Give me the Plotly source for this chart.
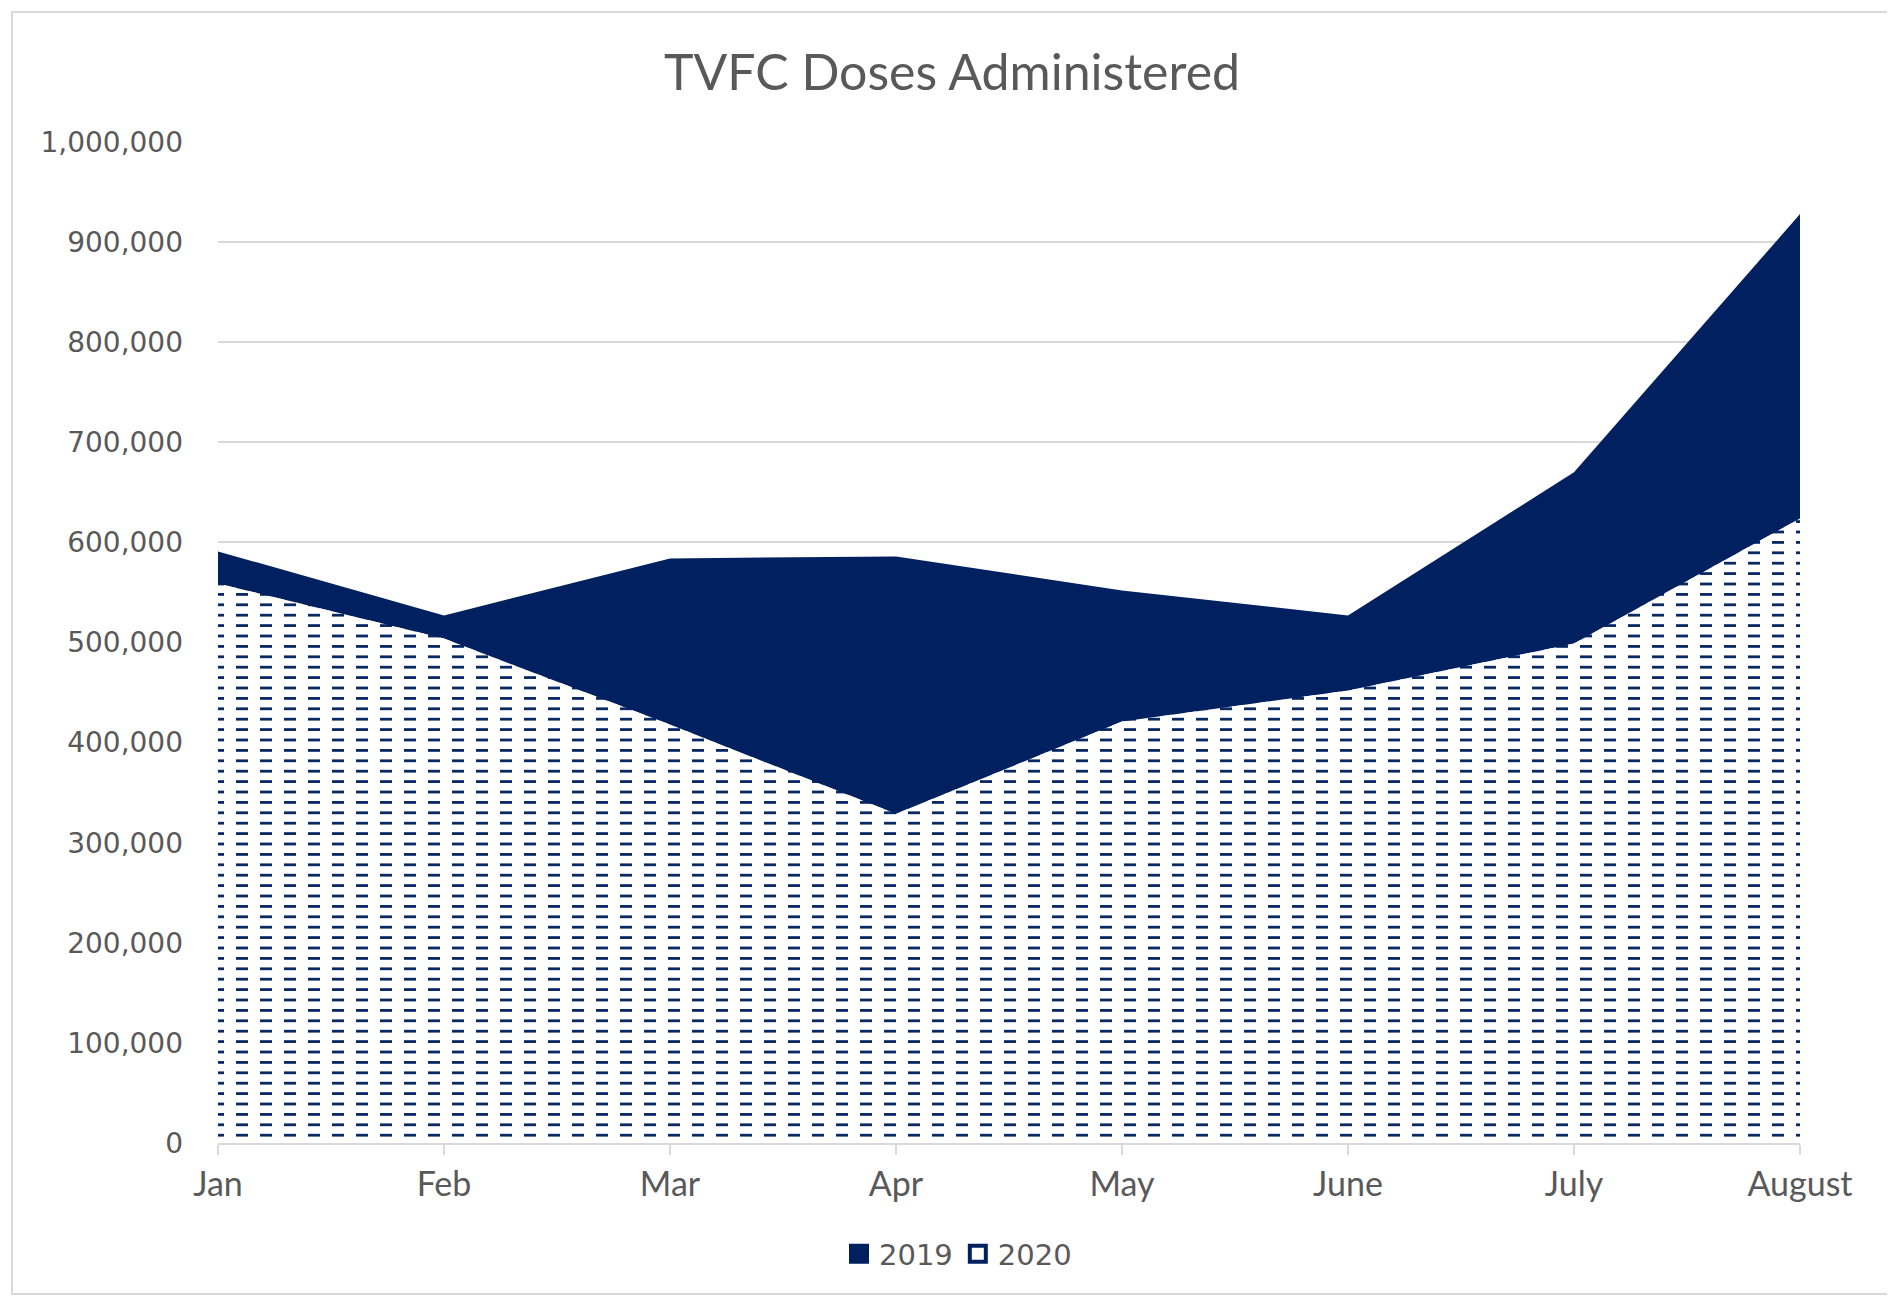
import plotly.graph_objects as go

months = ["Jan", "Feb", "Mar", "Apr", "May", "June", "July", "August"]
doses_2019 = [591000, 527000, 584000, 586000, 552000, 527000, 670000, 928000]
doses_2020 = [559000, 504000, 418000, 329000, 421000, 452000, 499000, 624000]
y_ticks = [0, 100000, 200000, 300000, 400000, 500000, 600000, 700000, 800000, 900000, 1000000]

NAVY = "#002060"
GRAY_TXT = "#595959"
GRID = "#d9d9d9"

# page has an 8px body margin; plot area wanted at page x 218-1800, y 142-1143
OFF = 8
L, R, T, B = 218 - OFF, 1895 - 1800 + OFF, 142 - OFF, 1300 - 1143 + OFF
PW, PH = 1895 - L - R, 1300 - T - B

fig = go.Figure()

fig.add_trace(go.Scatter(
    x=months, y=doses_2019, name="2019", mode="none", showlegend=False,
    fill="tozeroy", fillcolor=NAVY,
))

fig.add_trace(go.Scatter(
    x=months, y=doses_2020, name="2020", mode="none", showlegend=False,
    fill="tozeroy", fillcolor="white",
    fillpattern=dict(shape="-", fgcolor=NAVY, bgcolor="white", size=10.4,
                     solidity=0.26, fgopacity=1),
))

# white vertical bars break the horizontal lines into dashes
fig.add_trace(go.Scatter(
    x=months, y=doses_2020, name="2020", mode="none", showlegend=False,
    hoverinfo="skip", fill="tozeroy", fillcolor="rgba(0,0,0,0)",
    fillpattern=dict(shape="|", fgcolor="white", bgcolor="rgba(0,0,0,0)", size=24,
                     solidity=0.5, fgopacity=1),
))

# legend entries (square swatches like the original)
fig.add_trace(go.Scatter(
    x=[None], y=[None], name="2019", mode="markers",
    marker=dict(symbol="square", size=16, color=NAVY, line=dict(color=NAVY, width=4)),
))
fig.add_trace(go.Scatter(
    x=[None], y=[None], name="2020", mode="markers",
    marker=dict(symbol="square", size=16, color="white", line=dict(color=NAVY, width=4)),
))

fig.update_layout(
    width=1895, height=1300,
    margin=dict(l=L, r=R, t=T, b=B),
    paper_bgcolor="white", plot_bgcolor="white",
    title=dict(text="TVFC Doses Administered", x=(952 - OFF) / 1895, xref="container", xanchor="center",
               y=1 - (72 - OFF) / 1300, yref="container", yanchor="middle",
               font=dict(family="Lato", size=50, color=GRAY_TXT)),
    legend=dict(orientation="h", x=(958 - OFF) / 1895, xref="container", xanchor="center",
                y=1 - (1254 - OFF) / 1300, yref="container", yanchor="middle",
                font=dict(family="DejaVu Sans", size=29, color=GRAY_TXT),
                itemwidth=30, traceorder="normal", tracegroupgap=0),
    showlegend=True,
)

fig.update_xaxes(
    type="category", range=[0, 7], showgrid=False,
    showline=True, linecolor=GRID, linewidth=2,
    ticks="outside", ticklen=10, tickcolor=GRID, tickwidth=2,
    tickfont=dict(family="Lato", size=34, color=GRAY_TXT),
    ticklabelstandoff=0,
)
fig.update_yaxes(
    range=[0, 1000000], tickvals=y_ticks, tickformat=",",
    showgrid=True, gridcolor=GRID, gridwidth=2, zeroline=False,
    tickfont=dict(family="DejaVu Sans", size=28, color=GRAY_TXT),
    ticklabelstandoff=34,
)

fig.add_shape(type="rect", xref="paper", yref="paper",
              x0=(12 - 218) / PW, x1=(1890 - 218) / PW,
              y0=(1143 - 1294) / PH, y1=(1143 - 12) / PH,
              line=dict(color=GRID, width=2), fillcolor="rgba(0,0,0,0)", layer="below")

fig.write_html("out.html")
